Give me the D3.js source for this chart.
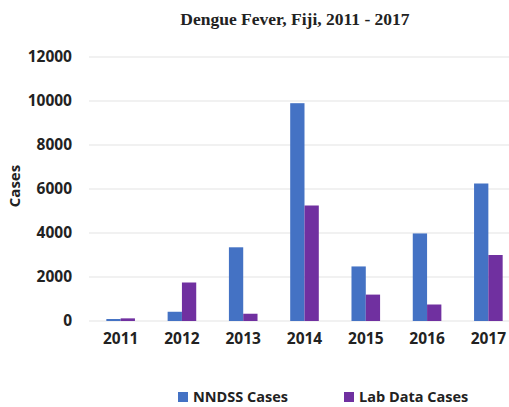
<!DOCTYPE html>
<html>
<head>
<meta charset="utf-8">
<script src="https://cdn.jsdelivr.net/npm/d3@7"></script>
<style>
  html, body { margin: 0; padding: 0; background: #fff; }
  svg { display: block; }
</style>
</head>
<body>
<svg id="chart" width="509" height="407"></svg>
<script>
const years = ["2011", "2012", "2013", "2014", "2015", "2016", "2017"];
const nndssCases = [90, 420, 3350, 9900, 2480, 3980, 6250];
const labDataCases = [120, 1750, 330, 5250, 1200, 750, 3000];
const seriesNames = ["NNDSS Cases", "Lab Data Cases"];
const seriesColors = ["#4472C4", "#7030A0"];
const yTicks = [0, 2000, 4000, 6000, 8000, 10000, 12000];

const svg = d3.select("#chart");
const W = 509, H = 407;
const plot = { left: 90, right: 519, top: 57, bottom: 321 };

const x = d3.scaleBand().domain(years).range([plot.left, plot.right]).padding(0);
const inner = d3.scaleBand().domain(seriesNames).range([0, 28.6]);
const y = d3.scaleLinear().domain([0, 12000]).range([plot.bottom, plot.top]);

// Gridlines
svg.append("g")
  .selectAll("line")
  .data(yTicks)
  .join("line")
  .attr("x1", plot.left - 1)
  .attr("x2", W)
  .attr("y1", d => y(d))
  .attr("y2", d => y(d))
  .attr("stroke", "#e3e3e3")
  .attr("stroke-width", 1.2);

// Title
svg.append("text")
  .attr("x", 295)
  .attr("y", 25)
  .attr("text-anchor", "middle")
  .attr("font-family", "'Liberation Serif', 'Times New Roman', serif")
  .attr("font-weight", "bold")
  .attr("font-size", 17.5)
  .attr("fill", "#222")
  .text("Dengue Fever, Fiji, 2011 - 2017");

// Y axis
const yAxis = d3.axisLeft(y).tickValues(yTicks).tickFormat(d3.format("d")).tickSize(0).tickPadding(0);
const yg = svg.append("g").attr("transform", `translate(72,0)`).call(yAxis);
yg.select(".domain").remove();
yg.selectAll("text")
  .attr("font-family", "'Open Sans', sans-serif")
  .attr("font-weight", "bold")
  .attr("font-size", 15.5)
  .attr("fill", "#222");

// Y label
svg.append("text")
  .attr("transform", `translate(20,186) rotate(-90)`)
  .attr("text-anchor", "middle")
  .attr("font-family", "'Open Sans', sans-serif")
  .attr("font-weight", "bold")
  .attr("font-size", 15)
  .attr("fill", "#222")
  .text("Cases");

// X axis
const xAxis = d3.axisBottom(x).tickSize(0).tickPadding(0);
const xg = svg.append("g").attr("transform", `translate(0,${plot.bottom + 12})`).call(xAxis);
xg.select(".domain").remove();
xg.selectAll("text")
  .attr("font-family", "'Open Sans', sans-serif")
  .attr("font-weight", "bold")
  .attr("font-size", 15.5)
  .attr("fill", "#222");

// Bars
const rows = years.map((yr, i) => ({ year: yr, values: [nndssCases[i], labDataCases[i]] }));
const groups = svg.append("g")
  .selectAll("g")
  .data(rows)
  .join("g")
  .attr("transform", d => `translate(${x(d.year) + x.bandwidth() / 2 - 14.3},0)`);
groups.selectAll("rect")
  .data(d => d.values.map((v, j) => ({ name: seriesNames[j], value: v, color: seriesColors[j] })))
  .join("rect")
  .attr("x", d => inner(d.name))
  .attr("width", inner.bandwidth())
  .attr("y", d => y(d.value))
  .attr("height", d => y(0) - y(d.value))
  .attr("fill", d => d.color);

// Legend
const legendX = [178, 344];
const legend = svg.append("g")
  .selectAll("g")
  .data(seriesNames)
  .join("g")
  .attr("transform", (d, i) => `translate(${legendX[i]},392)`);
legend.append("rect")
  .attr("width", 10)
  .attr("height", 10)
  .attr("fill", (d, i) => seriesColors[i]);
legend.append("text")
  .attr("x", 15)
  .attr("y", 10)
  .attr("font-family", "'Open Sans', sans-serif")
  .attr("font-weight", "bold")
  .attr("font-size", 14.5)
  .attr("fill", "#222")
  .text(d => d);
</script>
</body>
</html>
